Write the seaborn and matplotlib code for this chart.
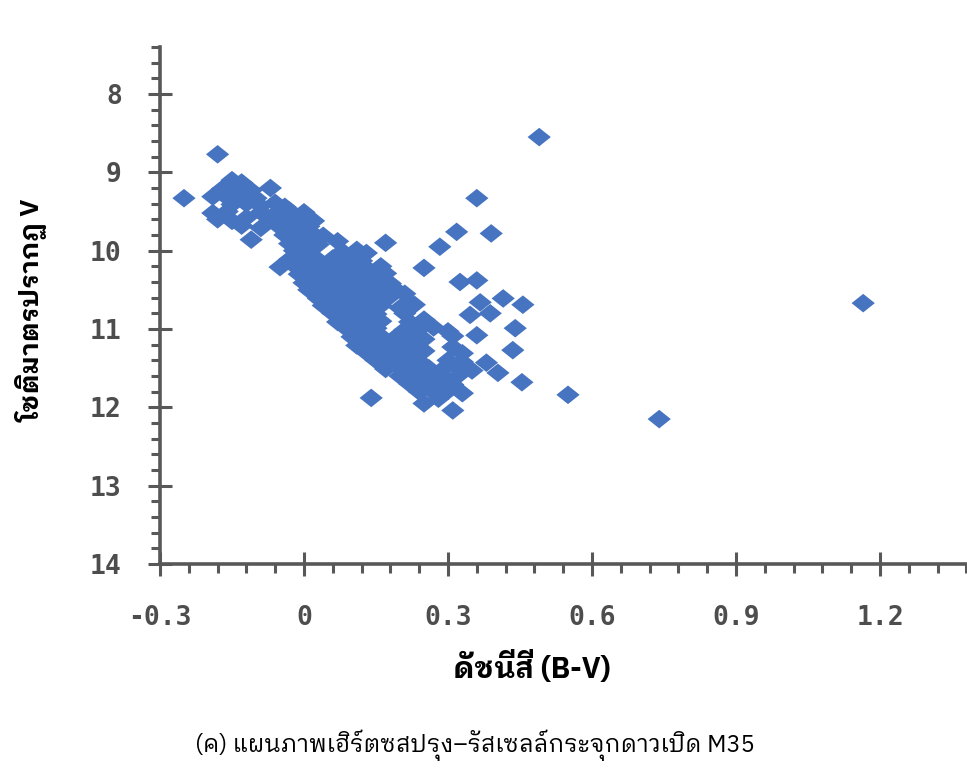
import matplotlib
matplotlib.use("Agg")
import matplotlib.pyplot as plt
from matplotlib import font_manager as fm
from matplotlib.markers import MarkerStyle
from matplotlib.ticker import FixedLocator, MultipleLocator
import pandas as pd
import seaborn as sns

# ---- M35 colour-magnitude data: colour index (B-V) and apparent magnitude V ----
# main-sequence band, listed row by row (top to bottom)
bv_main = [
    -0.18, -0.15, -0.13,
    -0.17, -0.14, -0.11, -0.07,
    -0.25, -0.19, -0.16, -0.13, -0.10,
    -0.15, -0.12, -0.09, -0.06, -0.04,
    -0.19, -0.16, -0.09, -0.06, -0.03, 0.00,
    -0.18, -0.15, -0.12, -0.07, -0.04, -0.01, 0.02,
    -0.13, -0.09, -0.05, -0.02, 0.01,
    -0.11, -0.04, -0.01, 0.02, 0.04,
    -0.03, 0.00, 0.03, 0.07, 0.17,
    -0.02, 0.01, 0.08, 0.11, 0.13,
    -0.03, 0.00, 0.03, 0.06, 0.09, 0.12,
    -0.05, -0.02, 0.01, 0.04, 0.07, 0.10, 0.13, 0.16, 0.25,
    -0.01, 0.02, 0.05, 0.08, 0.11, 0.14, 0.17,
    0.00, 0.03, 0.06, 0.09, 0.12, 0.15, 0.18,
    0.01, 0.04, 0.07, 0.10, 0.13, 0.16, 0.19, 0.21,
    0.03, 0.06, 0.09, 0.12, 0.15, 0.18, 0.22,
    0.04, 0.07, 0.10, 0.13, 0.16, 0.20, 0.23,
    0.06, 0.09, 0.12, 0.15, 0.21,
    0.07, 0.10, 0.13, 0.16, 0.22, 0.25,
    0.09, 0.12, 0.15, 0.21, 0.24, 0.27, 0.30,
    0.10, 0.13, 0.16, 0.19, 0.22, 0.25, 0.31,
    0.11, 0.14, 0.17, 0.20, 0.23, 0.31,
    0.13, 0.16, 0.19, 0.22, 0.25, 0.33,
    0.15, 0.18, 0.21, 0.24, 0.30, 0.33, 0.38,
    0.17, 0.20, 0.23, 0.26, 0.29, 0.32, 0.35,
    0.20, 0.23, 0.26, 0.29, 0.32,
    0.22, 0.25, 0.28, 0.31,
    0.24, 0.27, 0.30, 0.33,
    0.14, 0.28, 0.25, 0.31,
]
v_main = [
    8.77, 9.10, 9.13,
    9.21, 9.19, 9.23, 9.20,
    9.33, 9.31, 9.32, 9.29, 9.33,
    9.41, 9.40, 9.43, 9.39, 9.44,
    9.52, 9.50, 9.51, 9.53, 9.49, 9.51,
    9.60, 9.62, 9.58, 9.61, 9.63, 9.60, 9.62,
    9.68, 9.71, 9.70, 9.72, 9.69,
    9.86, 9.80, 9.82, 9.79, 9.81,
    9.91, 9.89, 9.92, 9.88, 9.90,
    10.00, 10.02, 10.01, 9.99, 10.03,
    10.11, 10.09, 10.12, 10.10, 10.11, 10.13,
    10.21, 10.19, 10.22, 10.20, 10.21, 10.18, 10.22, 10.20, 10.22,
    10.30, 10.32, 10.29, 10.31, 10.30, 10.33, 10.29,
    10.41, 10.39, 10.42, 10.40, 10.41, 10.38, 10.42,
    10.50, 10.52, 10.49, 10.51, 10.50, 10.53, 10.49, 10.55,
    10.61, 10.59, 10.62, 10.60, 10.61, 10.58, 10.67,
    10.70, 10.72, 10.69, 10.71, 10.70, 10.73, 10.69,
    10.80, 10.82, 10.79, 10.81, 10.80,
    10.91, 10.89, 10.92, 10.90, 10.91, 10.88,
    11.00, 11.02, 10.99, 11.01, 11.00, 10.98, 11.03,
    11.10, 11.12, 11.09, 11.11, 11.10, 11.13, 11.09,
    11.21, 11.19, 11.22, 11.20, 11.21, 11.23,
    11.30, 11.32, 11.29, 11.31, 11.28, 11.31,
    11.40, 11.42, 11.39, 11.41, 11.40, 11.42, 11.43,
    11.51, 11.49, 11.52, 11.50, 11.51, 11.49, 11.53,
    11.60, 11.62, 11.59, 11.61, 11.60,
    11.70, 11.72, 11.69, 11.71,
    11.80, 11.81, 11.79, 11.82,
    11.88, 11.89, 11.95, 12.04,
]
# redder stars scattered off the band
bv_field = [0.283, 0.318, 0.36, 0.39, 0.325, 0.36, 0.367, 0.415, 0.456, 0.346,
            0.388, 0.44, 0.36, 0.435, 0.454, 0.404, 0.49, 0.55, 0.74, 1.165]
v_field = [9.95, 9.76, 9.33, 9.78, 10.40, 10.38, 10.66, 10.61, 10.69, 10.82,
           10.80, 10.99, 11.08, 11.27, 11.68, 11.56, 8.55, 11.84, 12.15, 10.67]

x_ticks = [-0.3, 0.0, 0.3, 0.6, 0.9, 1.2]
x_tick_labels = ["-0.3", "0", "0.3", "0.6", "0.9", "1.2"]
y_ticks = [8, 9, 10, 11, 12, 13, 14]
y_tick_labels = ["8", "9", "10", "11", "12", "13", "14"]

x_title = "ดัชนีสี (B-V)"
y_title = "โชติมาตรปรากฏ V"
caption = "(ค) แผนภาพเฮิร์ตซสปรุง–รัสเซลล์กระจุกดาวเปิด M35"

df = pd.DataFrame({"bv": bv_main + bv_field, "V": v_main + v_field})

sns.set_theme(style="white")


def pick_family(candidates, default="DejaVu Sans"):
    """First candidate family that is installed with a bold face."""
    bold = {f.name for f in fm.fontManager.ttflist
            if (f.weight if isinstance(f.weight, int) else 400) >= 700
            or str(f.weight).lower() == "bold"}
    for c in candidates:
        if c in bold:
            return c
    return default


thai_family = pick_family(["Noto Sans Thai Looped", "IBM Plex Sans Thai Looped",
                           "Noto Sans Thai", "Loma", "Sarabun"])
plt.rcParams["font.family"] = [thai_family, "DejaVu Sans"]

fig = plt.figure(figsize=(9.67, 7.78), dpi=100)
ax = fig.add_axes([160 / 967, 1 - 564 / 778, 1 - 160 / 967, (564 - 47) / 778])

# slightly flattened diamond marker
diamond = MarkerStyle([(-1.0, 0.0), (0.0, 0.8), (1.0, 0.0), (0.0, -0.8), (-1.0, 0.0)])

sns.scatterplot(data=df, x="bv", y="V", ax=ax, marker=diamond, s=280,
                color="#4674C1", edgecolor="none", linewidth=0, legend=False)

ax.set_xlim(-0.3, -0.3 + 807 / 480)
ax.set_ylim(14, 7.4)

axis_col = "#585858"
for side in ("top", "right"):
    ax.spines[side].set_visible(False)
for side in ("left", "bottom"):
    ax.spines[side].set_color(axis_col)
    ax.spines[side].set_linewidth(2.6)

ax.xaxis.set_major_locator(FixedLocator(x_ticks))
ax.set_xticklabels(x_tick_labels)
ax.xaxis.set_minor_locator(MultipleLocator(0.06))
ax.yaxis.set_major_locator(FixedLocator(y_ticks))
ax.set_yticklabels(y_tick_labels)
ax.yaxis.set_minor_locator(MultipleLocator(0.2))

ax.tick_params(axis="both", which="both", bottom=True, left=True, top=False, right=False)
ax.tick_params(axis="both", which="major", direction="inout", length=17, width=2.2,
               color=axis_col, labelcolor="#4d4d4d")
ax.tick_params(axis="both", which="minor", direction="out", length=6.5, width=2.2,
               color=axis_col)
ax.tick_params(axis="x", which="major", pad=21)
ax.tick_params(axis="y", which="major", pad=19)
for lab in ax.get_xticklabels() + ax.get_yticklabels():
    lab.set_fontfamily("DejaVu Sans Mono")
    lab.set_fontweight("bold")
    lab.set_fontsize(19)

ax.set_xlabel("")
ax.set_ylabel("")

fig.text(532 / 967, 1 - 668 / 778, x_title, ha="center", va="center",
         fontsize=21, fontweight="bold", color="black")
fig.text(32 / 967, 1 - 310 / 778, y_title, ha="center", va="center", rotation=90,
         fontsize=19, fontweight="bold", color="black")
fig.text(475 / 967, 1 - 745 / 778, caption, ha="center", va="center",
         fontsize=17, color="black")

fig.savefig("out.png", dpi=100)
